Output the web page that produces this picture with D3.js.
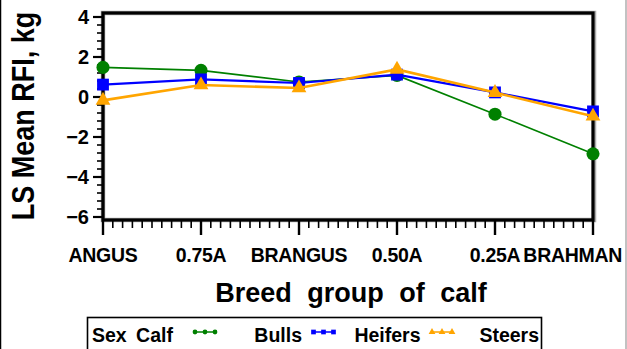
<!DOCTYPE html>
<html>
<head>
<meta charset="utf-8">
<script src="https://cdn.jsdelivr.net/npm/d3@7"></script>
<style>
  body { margin: 0; background: #fff; }
  text { font-family: "Liberation Sans", Arial, sans-serif; font-weight: bold; fill: #000; }
</style>
</head>
<body>
<script>
const breeds = ['ANGUS', '0.75A', 'BRANGUS', '0.50A', '0.25A', 'BRAHMAN'];
const bulls = [1.48, 1.33, 0.75, 1.08, -0.86, -2.84];
const heifers = [0.62, 0.88, 0.70, 1.12, 0.23, -0.72];
const steers = [-0.17, 0.60, 0.45, 1.38, 0.22, -0.96];
const yTicks = [4, 2, 0, -2, -4, -6];
const seriesNames = ['Bulls', 'Heifers', 'Steers'];
const seriesColors = ['#008000', '#0000ff', '#ffa500'];

const width = 627, height = 349;

const svg = d3.select('body')
              .append('svg')
              .attr('width', width)
              .attr('height', height);

// outer page edges
svg.append('line').attr('x1', 0.5).attr('x2', 0.5).attr('y1', 0).attr('y2', height)
  .attr('stroke', '#000').attr('stroke-width', 1.5);
svg.append('line').attr('x1', 626).attr('x2', 626).attr('y1', 0).attr('y2', height)
  .attr('stroke', '#999').attr('stroke-width', 1.2);

const xScale = d3.scalePoint()
                 .domain(breeds)
                 .range([103, 593]);

const yScale = d3.scaleLinear()
                 .domain([-6.2, 4.25])
                 .range([221, 12]);

// frame
svg.append('rect')
  .attr('x', 103).attr('y', 13).attr('width', 491).attr('height', 207)
  .attr('fill', 'none').attr('stroke', '#aaa').attr('stroke-width', 4.5);
svg.append('rect')
  .attr('x', 103).attr('y', 13).attr('width', 490).attr('height', 207)
  .attr('fill', 'none').attr('stroke', '#000').attr('stroke-width', 3.2);

// y axis ticks
const yMinor = d3.range(-6, 4.01, 0.4);
svg.append('g').selectAll('line')
  .data(yMinor)
  .enter()
  .append('line')
  .attr('x1', 97).attr('x2', 102)
  .attr('y1', (d) => yScale(d)).attr('y2', (d) => yScale(d))
  .attr('stroke', '#000').attr('stroke-width', 1.6);

svg.append('g').selectAll('line')
  .data(yTicks)
  .enter()
  .append('line')
  .attr('x1', 93).attr('x2', 102)
  .attr('y1', (d) => yScale(d)).attr('y2', (d) => yScale(d))
  .attr('stroke', '#000').attr('stroke-width', 2.2);

svg.append('g').selectAll('text')
  .data(yTicks)
  .enter()
  .append('text')
  .attr('x', 89)
  .attr('y', (d) => yScale(d))
  .attr('dy', '0.36em')
  .attr('text-anchor', 'end')
  .style('font-size', '20px')
  .text((d) => d < 0 ? '\u2212' + Math.abs(d) : d);

// x axis ticks
const idx = d3.scaleLinear().domain([0, breeds.length - 1]).range([103, 593]);
const xMinor = d3.range(0, breeds.length - 1 + 0.001, 0.1);
svg.append('g').selectAll('line')
  .data(xMinor)
  .enter()
  .append('line')
  .attr('x1', (d) => idx(d)).attr('x2', (d) => idx(d))
  .attr('y1', 221).attr('y2', 228)
  .attr('stroke', '#000').attr('stroke-width', 1.6);

svg.append('g').selectAll('line')
  .data(breeds)
  .enter()
  .append('line')
  .attr('x1', (d) => xScale(d)).attr('x2', (d) => xScale(d))
  .attr('y1', 221).attr('y2', 235)
  .attr('stroke', '#000').attr('stroke-width', 2.4);

svg.append('g').selectAll('text')
  .data(breeds)
  .enter()
  .append('text')
  .attr('x', (d) => xScale(d))
  .attr('y', 262)
  .attr('text-anchor', 'middle')
  .style('font-size', '19.5px')
  .style('letter-spacing', '-0.3px')
  .text((d) => d)
  .each(function() {
    const bb = this.getBBox();
    if (bb.x + bb.width > 622) {
      d3.select(this).attr('x', +d3.select(this).attr('x') - (bb.x + bb.width - 622));
    }
  });

// axis titles
svg.append('text')
  .attr('x', 351)
  .attr('y', 302)
  .attr('text-anchor', 'middle')
  .style('font-size', '27px')
  .style('word-spacing', '8px')
  .text('Breed group of calf');

svg.append('text')
  .attr('transform', 'translate(34, 116) scale(1.15, 1) rotate(-90)')
  .attr('text-anchor', 'middle')
  .style('font-size', '27px')
  .text('LS Mean RFI, kg');

// series
const seriesData = [bulls, heifers, steers];
const symbols = [d3.symbolCircle, d3.symbolSquare, d3.symbolTriangle];
const symSizes = [135, 140, 95];
const lineWidths = [1.6, 2.2, 2.6];

const line = d3.line()
  .x((d, i) => xScale(breeds[i]))
  .y((d) => yScale(d));

seriesData.forEach((vals, s) => {
  svg.append('path')
    .datum(vals)
    .attr('d', line)
    .attr('fill', 'none')
    .attr('stroke', seriesColors[s])
    .attr('stroke-width', lineWidths[s]);

  svg.append('g').selectAll('path')
    .data(vals)
    .enter()
    .append('path')
    .attr('transform', (d, i) => 'translate(' + xScale(breeds[i]) + ',' + yScale(d) + ')')
    .attr('d', d3.symbol().type(symbols[s]).size(symSizes[s]))
    .attr('fill', seriesColors[s]);
});

// legend
svg.append('rect')
  .attr('x', 87.5).attr('y', 317.5).attr('width', 454).attr('height', 40)
  .attr('fill', '#fff').attr('stroke', '#000').attr('stroke-width', 1.6);

svg.append('text')
  .attr('x', 92)
  .attr('y', 342)
  .style('font-size', '19.5px')
  .style('word-spacing', '4px')
  .text('Sex Calf');

const legSmall = [18, 22, 20];
seriesNames.forEach((name, s) => {
  const sx = 195 + s * 118.5;
  const g = svg.append('g');
  g.append('line')
    .attr('x1', sx).attr('x2', sx + 20)
    .attr('y1', 332).attr('y2', 332)
    .attr('stroke', seriesColors[s]).attr('stroke-width', 1.5);
  g.selectAll('path')
    .data([0, 10, 20])
    .enter()
    .append('path')
    .attr('transform', (d) => 'translate(' + (sx + d) + ',332)')
    .attr('d', d3.symbol().type(symbols[s]).size(legSmall[s]))
    .attr('fill', seriesColors[s]);
  g.append('text')
    .attr('x', sx + 107)
    .attr('y', 342)
    .attr('text-anchor', 'end')
    .style('font-size', '19.5px')
    .text(name);
});
</script>
</body>
</html>
